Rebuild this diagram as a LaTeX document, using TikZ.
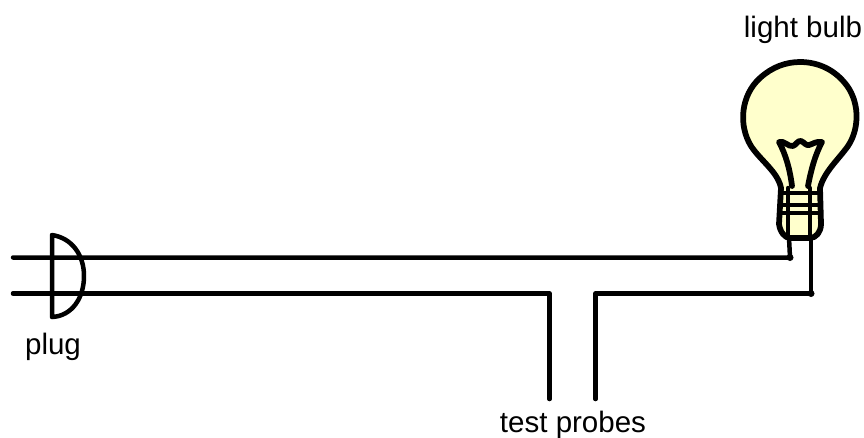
\documentclass[tikz,border=0pt]{standalone}
\usepackage{fontspec}
\setmainfont{Liberation Sans}
\definecolor{bulbfill}{RGB}{255,255,204}
\tikzset{
  wire/.style={line width=0.09cm, line cap=round, line join=round},
  glass/.style={line width=0.115cm, line cap=round, line join=round},
  joint/.style={circle, fill=black, inner sep=0pt, minimum size=0.14cm},
  label/.style={inner sep=0pt, font=\fontsize{16.8}{20}\selectfont},
}
\begin{document}
\begin{tikzpicture}[x=0.02cm, y=-0.02cm]
  \useasboundingbox (0,0) rectangle (864,437);

  % bulb
  \draw [glass, fill=bulbfill] (781,188) .. controls (778,172) and (760,160) .. (751,146)
    .. controls (738,125) and (741,95) .. (760,78)
    .. controls (772,67) and (786,62) .. (800,62)
    .. controls (816,62) and (832,68) .. (844,82)
    .. controls (860,100) and (860,128) .. (848,146)
    .. controls (838,160) and (824,172) .. (820,188)
    -- (821,224) .. controls (821,232) and (816,238) .. (810,238)
    -- (790,238) .. controls (785,238) and (780,232) .. (779,224) -- cycle;
  \draw [glass] (792,186) .. controls (790,170) and (786,155) .. (779,142)
    .. controls (784,140) and (788,147) .. (793,146)
    .. controls (796,145) and (798,140) .. (801,141)
    .. controls (804,142) and (806,146) .. (809,145)
    .. controls (813,144) and (816,141) .. (822,142)
    .. controls (815,155) and (811,170) .. (808,186);

  % base
  \foreach \yy in {193,205,213} {
    \draw [wire] (781,\yy) -- (820,\yy);
  }
  \draw [wire] (788,188) -- (788,238);
  \draw [wire] (810,188) -- (810,238);

  % plug
  \draw [wire] (52,317) -- (52,235) .. controls (72,238) and (84,255) .. (84,276)
    .. controls (84,298) and (72,316) .. (52,317);

  % wires
  \coordinate (lineA) at (13,257.5);
  \node [joint] (bulbA) at (790,257.5) {};
  \coordinate (capA) at (789,238);
  \coordinate (lineB) at (13,293.5);
  \coordinate (probeA) at (549.5,293.5);
  \coordinate (tipA) at (549.5,399);
  \coordinate (tipB) at (595.5,399);
  \coordinate (probeB) at (595.5,293.5);
  \node [joint] (bulbB) at (811,293.5) {};
  \coordinate (capB) at (811,238);
  \draw [wire] (lineA) -- (bulbA.center) -- (capA);
  \draw [wire] (lineB) -- (probeA) -- (tipA);
  \draw [wire] (tipB) -- (probeB) -- (bulbB.center) -- (capB);

  \node [label] (bulbtext) at (803,30) {light bulb};
  \node [label] (plugtext) at (53,347) {plug};
  \node [label] (probetext) at (573,424.5) {test probes};
\end{tikzpicture}
\end{document}
